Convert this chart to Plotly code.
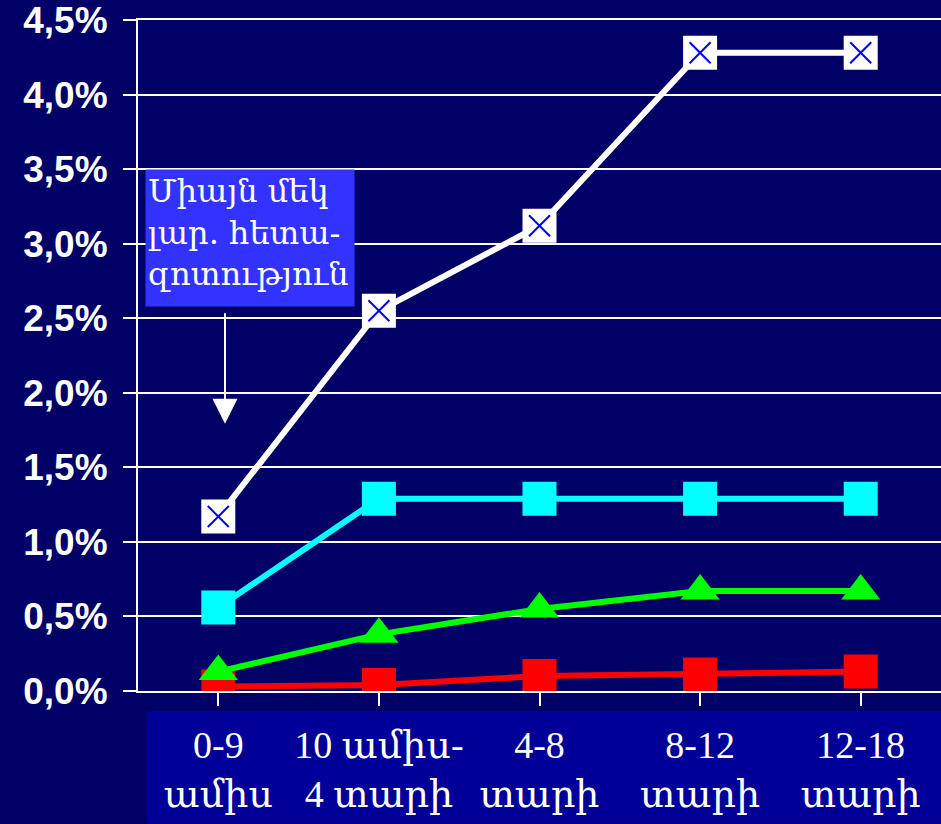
import plotly.graph_objects as go

categories = ["0-9<br>ամիս", "10 ամիս-<br>4 տարի", "4-8<br>տարի", "8-12<br>տարի", "12-18<br>տարի"]
white_vals = [1.17, 2.55, 3.12, 4.28, 4.28]
cyan_vals = [0.56, 1.29, 1.29, 1.29, 1.29]
green_vals = [0.13, 0.38, 0.55, 0.67, 0.67]
red_vals = [0.03, 0.04, 0.10, 0.11, 0.13]
y_ticks = [0, 0.5, 1.0, 1.5, 2.0, 2.5, 3.0, 3.5, 4.0, 4.5]
y_tick_labels = ["0,0%", "0,5%", "1,0%", "1,5%", "2,0%", "2,5%", "3,0%", "3,5%", "4,0%", "4,5%"]
note_text = "Միայն մեկ<br>լար. հետա-<br>զոտություն"

BG = "#000066"
x = list(range(len(categories)))

fig = go.Figure()
fig.add_trace(go.Scatter(x=x, y=red_vals, mode="lines+markers",
                         line=dict(color="#FF0000", width=6),
                         marker=dict(symbol="square", size=34, color="#FF0000")))
fig.add_trace(go.Scatter(x=x, y=green_vals, mode="lines+markers",
                         line=dict(color="#00FF00", width=6),
                         marker=dict(symbol="triangle-up", size=34, color="#00FF00")))
fig.add_trace(go.Scatter(x=x, y=cyan_vals, mode="lines+markers",
                         line=dict(color="#00FFFF", width=6),
                         marker=dict(symbol="square", size=34, color="#00FFFF")))
fig.add_trace(go.Scatter(x=x, y=white_vals, mode="lines+markers",
                         line=dict(color="#FFFFFF", width=6),
                         marker=dict(symbol="square", size=34, color="#FFFFFF")))
fig.add_trace(go.Scatter(x=x, y=white_vals, mode="markers",
                         marker=dict(symbol="x-thin-open", size=21, color="#0000FF",
                                     line=dict(color="#0000FF", width=2))))

L, T, R, B = 138, 18, 0, 133
W, H = 941, 824
pw, ph = W - L - R, H - T - B

def px(xp):
    return (xp - L) / pw

def py(yp):
    return (H - B - yp) / ph

fig.add_shape(type="rect", xref="paper", yref="paper",
              x0=px(147), x1=px(941), y0=py(711), y1=py(824),
              fillcolor="#000099", line=dict(width=0), layer="below")

fig.add_annotation(xref="paper", yref="paper", x=px(145), y=py(167),
                   xanchor="left", yanchor="top", text=note_text, showarrow=False,
                   align="left", valign="top", bgcolor="#3333FF",
                   width=204, height=132, borderpad=2,
                   font=dict(family="DejaVu Serif", size=32, color="white"))
fig.add_annotation(xref="paper", yref="paper", x=px(225), y=py(423),
                   ax=0, ay=-112, text="", showarrow=True,
                   arrowhead=2, arrowsize=2.5, arrowwidth=2, arrowcolor="white")

fig.update_layout(
    width=W, height=H,
    margin=dict(l=L, r=R, t=T, b=B),
    paper_bgcolor=BG, plot_bgcolor=BG,
    showlegend=False,
    xaxis=dict(range=[-0.5, 4.5], tickmode="array", tickvals=x, ticktext=categories,
               tickson="boundaries", ticks="outside", ticklen=13, tickwidth=2,
               tickcolor="white", showgrid=False, showline=True, mirror=True,
               linecolor="white", linewidth=2, zeroline=False,
               ticklabelstandoff=6, ticklabeloverflow="allow",
               tickfont=dict(family="Liberation Serif, DejaVu Serif", size=38, color="white")),
    yaxis=dict(range=[0, 4.5], tickmode="array", tickvals=y_ticks, ticktext=y_tick_labels,
               ticks="outside", ticklen=13, tickwidth=2, tickcolor="white",
               showgrid=True, gridcolor="white", gridwidth=2,
               showline=True, linecolor="white", linewidth=2,
               zeroline=True, zerolinecolor="white", zerolinewidth=2,
               ticklabelstandoff=8, ticklabeloverflow="allow",
               tickfont=dict(family="Liberation Sans, Arial", size=37, color="white", weight="bold")),
)

fig.write_html("out.html", config={"displayModeBar": False},
               post_script="document.body.style.margin='0px';document.body.style.background='%s';" % BG)
